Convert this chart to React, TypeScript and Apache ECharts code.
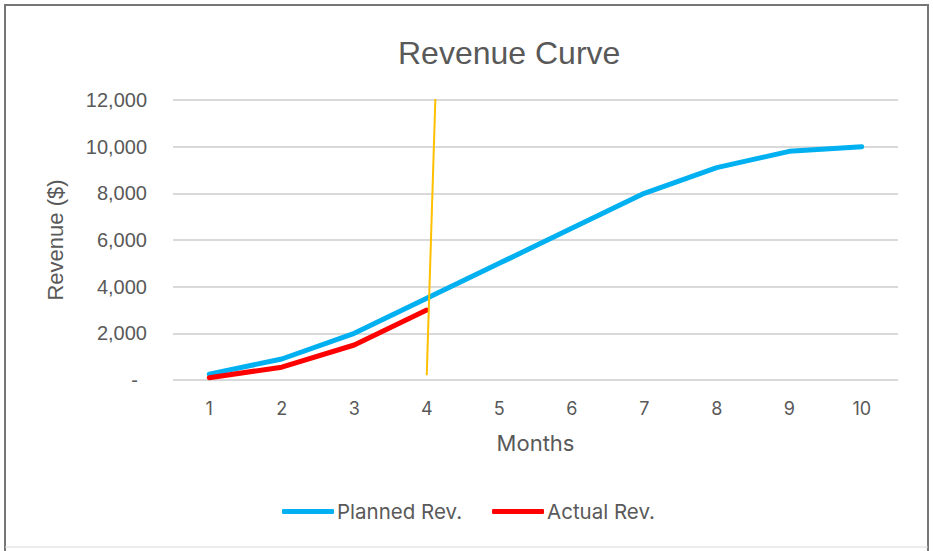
import React, { useEffect, useRef } from "react";
import * as echarts from "echarts";

const months = ["1", "2", "3", "4", "5", "6", "7", "8", "9", "10"];
const plannedRev = [250, 900, 2000, 3500, 5000, 6500, 8000, 9100, 9800, 10000];
const actualRev = [100, 550, 1500, 3000];
const markerLine = [
  [4.12, 12180],
  [4.0, 200],
];
const yTicks = [0, 2000, 4000, 6000, 8000, 10000, 12000];

const FONT = "Inter, 'Noto Sans', sans-serif";
const ARIAL = "'Liberation Sans', Arial, sans-serif";
const GREY = "#595959";

export default function App() {
  const ref = useRef<HTMLDivElement>(null);
  useEffect(() => {
    document.body.style.margin = "0";
    const chart = echarts.init(ref.current!, null, { renderer: "svg" });
    chart.setOption({
      animation: false,
      backgroundColor: "#ffffff",
      textStyle: { fontFamily: FONT },
      title: {
        text: "Revenue Curve",
        left: 393,
        top: 32,
        textStyle: { fontFamily: ARIAL, fontSize: 32, fontWeight: "normal", color: GREY },
      },
      legend: {
        bottom: 29,
        left: 282,
        padding: 0,
        data: ["Planned Rev.", "Actual Rev."],
        icon: "roundRect",
        itemWidth: 52,
        itemHeight: 5,
        itemGap: 30,
        textStyle: { fontFamily: FONT, fontSize: 20.5, color: GREY, padding: [0, 0, 0, -2] },
      },
      grid: { left: 173, right: 35, top: 100, bottom: 171, containLabel: false },
      xAxis: [
        {
          type: "category",
          data: months,
          name: "Months",
          nameLocation: "middle",
          nameGap: 52,
          nameTextStyle: { fontFamily: FONT, fontSize: 22, color: GREY },
          axisLine: { show: false },
          axisTick: { show: false },
          axisLabel: { fontFamily: FONT, fontSize: 18, color: GREY, margin: 19 },
        },
        {
          type: "value",
          min: 0.5,
          max: 10.5,
          show: false,
        },
      ],
      yAxis: {
        type: "value",
        min: 0,
        max: 12000,
        interval: 2000,
        name: "Revenue ($)",
        nameLocation: "middle",
        nameGap: 107,
        nameTextStyle: { fontFamily: ARIAL, fontSize: 22, color: GREY },
        axisLine: { show: false },
        axisTick: { show: false },
        splitLine: { lineStyle: { color: "#d9d9d9", width: 2 } },
        axisLabel: {
          fontFamily: ARIAL,
          fontSize: 20,
          color: GREY,
          margin: 26,
          formatter: (v: number) => (v === 0 ? "{d|-}" : v.toLocaleString("en-US")),
          rich: { d: { fontFamily: ARIAL, fontSize: 20, color: GREY, padding: [0, 9, 0, 0] } },
          customValues: yTicks,
        },
      },
      series: [
        {
          name: "Planned Rev.",
          type: "line",
          data: plannedRev,
          symbol: "none",
          color: "#00b0f0",
          lineStyle: { width: 5, color: "#00b0f0", cap: "round", join: "round" },
          z: 2,
        },
        {
          name: "Actual Rev.",
          type: "line",
          data: actualRev,
          symbol: "none",
          color: "#ff0000",
          lineStyle: { width: 5, color: "#ff0000", cap: "round", join: "round" },
          z: 3,
        },
        {
          name: "marker",
          type: "line",
          xAxisIndex: 1,
          data: markerLine,
          symbol: "none",
          lineStyle: { width: 2, color: "#ffc000" },
          z: 4,
        },
      ],
      graphic: [
        { type: "line", shape: { x1: 4, y1: 5, x2: 929, y2: 5 }, style: { stroke: "#767676", lineWidth: 2 } },
        { type: "line", shape: { x1: 5, y1: 5, x2: 5, y2: 551 }, style: { stroke: "#767676", lineWidth: 2 } },
        { type: "line", shape: { x1: 928, y1: 5, x2: 928, y2: 551 }, style: { stroke: "#767676", lineWidth: 2 } },
        { type: "line", shape: { x1: 5, y1: 547, x2: 928, y2: 547 }, style: { stroke: "#d9d9d9", lineWidth: 1 } },
      ],
    });
    return () => chart.dispose();
  }, []);
  return <div ref={ref} style={{ width: 933, height: 551 }} />;
}
